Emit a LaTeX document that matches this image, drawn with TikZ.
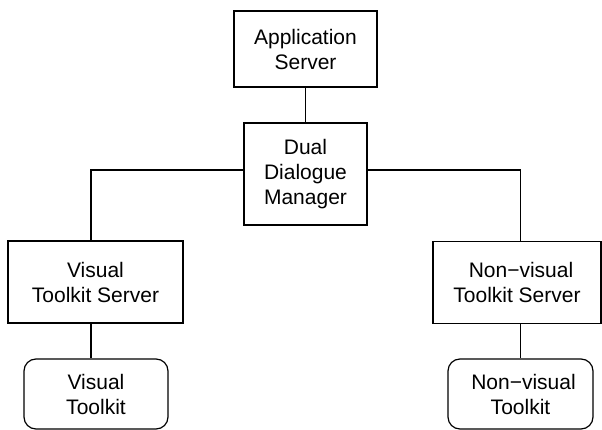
\documentclass[tikz,border=0pt]{standalone}
\usepackage{fontspec}
\setmainfont{Liberation Sans}
\begin{document}
\begin{tikzpicture}[x=1pt,y=-1pt,
  line width=1.2pt,
  every node/.style={font=\fontsize{21}{25}\selectfont, align=center, inner sep=0pt},
  sqbox/.style={draw, rectangle},
  rbox/.style={draw, rectangle, rounded corners=12pt},
  link/.style={draw, line width=1.2pt}]
  \useasboundingbox (0,0) rectangle (602,430);

  % boxes
  \node[sqbox, minimum width=143pt, minimum height=76pt] (app) at (305.5,49) {Application\\Server};
  \node[sqbox, minimum width=123pt, minimum height=102pt] (ddm) at (305.5,174) {Dual\\Dialogue\\Manager};
  \node[sqbox, minimum width=175pt, minimum height=82pt] (vts) at (95.5,282) {Visual\\Toolkit Server};
  \node[sqbox, minimum width=168pt, minimum height=82pt] (nvts) at (517,282.5) {\hspace*{8pt}Non−visual\\Toolkit Server};
  \node[rbox, minimum width=144pt, minimum height=70pt] (vt) at (96,394) {Visual\\Toolkit};
  \node[rbox, minimum width=145pt, minimum height=70pt] (nvt) at (520.5,394) {\hspace*{6pt}Non−visual\\Toolkit};

  % bend points of the connectors
  \coordinate (lbend) at (91,170);
  \coordinate (rbend) at (520.5,170);

  % connectors
  \draw[link] (app.south) -- (ddm.north);
  \draw[link] (ddm.west |- lbend) -- (lbend) -- (lbend |- vts.north);
  \draw[link] (ddm.east |- rbend) -- (rbend) -- (rbend |- nvts.north);
  \draw[link] (lbend |- vts.south) -- (lbend |- vt.north);
  \draw[link] (rbend |- nvts.south) -- (rbend |- nvt.north);
\end{tikzpicture}
\end{document}
